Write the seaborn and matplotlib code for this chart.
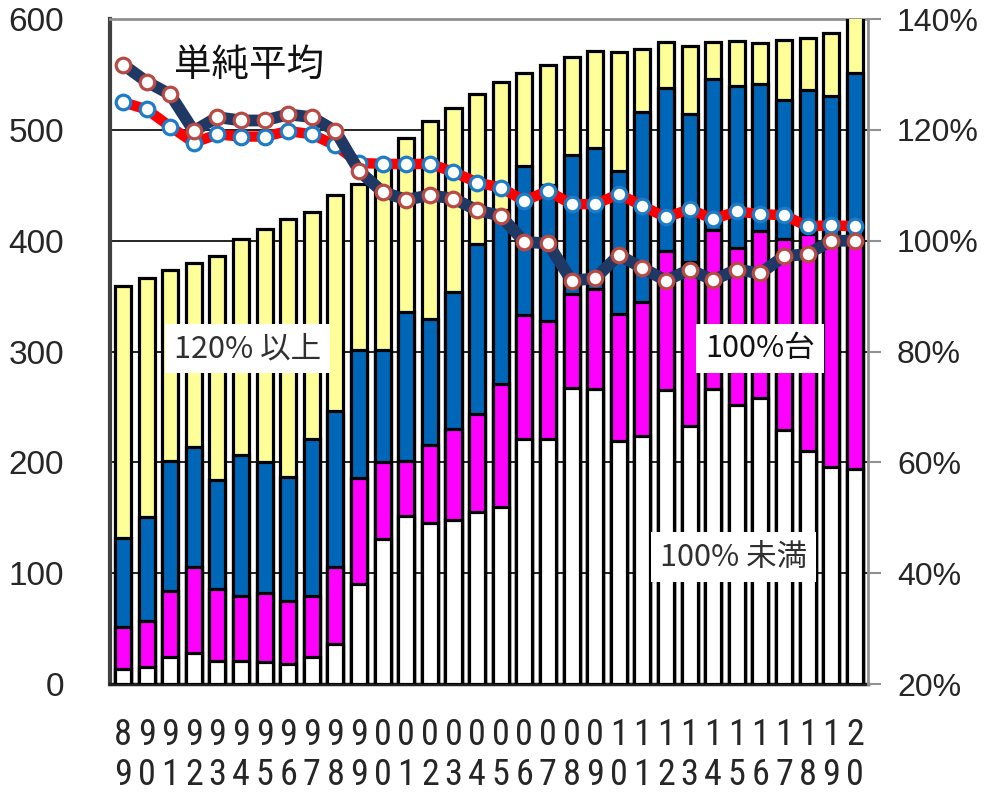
import numpy as np
import pandas as pd
import matplotlib
matplotlib.use("Agg")
import matplotlib.pyplot as plt
import seaborn as sns
from matplotlib import font_manager
from matplotlib.font_manager import FontProperties

# ---- data -------------------------------------------------------------
years = list(range(1989, 2021))

# number of cases in each band (stacked from the bottom)
under_100 = [14, 15, 24, 28, 21, 21, 20, 18, 24, 36, 90, 131, 152, 145, 148, 155,
             160, 221, 221, 267, 266, 219, 224, 265, 233, 266, 252, 258, 229, 210, 196, 194]
band_100s = [37, 42, 60, 78, 65, 58, 62, 57, 55, 70, 96, 69, 49, 71, 82, 89,
             111, 112, 107, 85, 90, 115, 121, 126, 148, 144, 141, 151, 173, 196, 203, 205]
band_110s = [81, 94, 117, 108, 98, 128, 118, 112, 142, 140, 115, 101, 135, 113, 124, 153,
             157, 134, 122, 125, 128, 129, 171, 147, 133, 136, 147, 132, 125, 130, 132, 152]
over_120 = [227, 215, 173, 166, 202, 195, 211, 233, 205, 195, 150, 171, 157, 179, 166, 135,
            115, 84, 109, 89, 87, 107, 57, 41, 62, 33, 40, 37, 54, 47, 56, 64]

# averages in percent (right axis)
simple_avg = [131.8, 128.7, 126.4, 119.8, 122.3, 121.7, 121.7, 122.8, 122.3, 119.8, 112.6,
              108.8, 107.4, 108.2, 107.6, 105.5, 104.5, 99.8, 99.5, 92.8, 93.2, 97.4,
              95.1, 92.8, 94.8, 92.9, 94.8, 94.1, 97.2, 97.6, 100.0, 100.0]
weighted_avg = [125.0, 123.7, 120.6, 117.7, 119.2, 118.8, 118.8, 119.8, 119.2, 117.2, 114.0,
                113.9, 113.8, 113.9, 112.4, 110.5, 109.6, 107.2, 109.0, 106.6, 106.6, 108.4,
                106.3, 104.2, 105.7, 103.9, 105.3, 104.8, 104.6, 102.6, 102.8, 102.6]

tick_labels = [f"{str(y)[2]}\n{str(y)[3]}" for y in years]
left_ticks = [0, 100, 200, 300, 400, 500, 600]
right_ticks = [20, 40, 60, 80, 100, 120, 140]

# ---- style ------------------------------------------------------------
sns.set_style("white")
plt.rcParams["font.family"] = ["Liberation Sans", "Noto Sans CJK JP", "DejaVu Sans"]
jp_family = ["Noto Sans CJK JP", "DejaVu Sans"]


def narrow_font(size):
    """Pick a condensed sans face for the stacked year digits, if one is installed."""
    fonts = font_manager.fontManager.ttflist
    for name in ["Liberation Sans Narrow", "Roboto Condensed", "DejaVu Sans", "Open Sans"]:
        for f in fonts:
            regular = f.name == name and f.style == "normal" and str(f.weight) in ("400", "normal")
            condensed = name == "Liberation Sans Narrow" or f.stretch in ("condensed", "semi-condensed")
            if regular and condensed:
                return FontProperties(fname=f.fname, size=size)
    return FontProperties(family="Liberation Sans", size=size)


df = pd.DataFrame({
    "year": [str(y) for y in years],
    "w": under_100,
    "m": band_100s,
    "b": band_110s,
    "y": over_120,
})
df["cum_m"] = df["w"] + df["m"]
df["cum_b"] = df["cum_m"] + df["b"]
df["cum_y"] = df["cum_b"] + df["y"]

fig = plt.figure(figsize=(9.85, 7.95), dpi=100)
ax = fig.add_axes([0.1117, 0.1396, 0.881 - 0.1117, 0.976 - 0.1396])

# stacked bars: draw each cumulative total, tallest first
order = df["year"].tolist()
bar_kw = dict(edgecolor="black", linewidth=2.3, width=0.68, saturation=1, ax=ax, order=order, zorder=3)
for col, colour in [("cum_y", "#FFFF99"), ("cum_b", "#0066B8"), ("cum_m", "#FF00FF"), ("w", "white")]:
    sns.barplot(data=df, x="year", y=col, color=colour, **bar_kw)

ax.set_ylim(0, 600)
ax.set_xlim(-0.55, len(years) - 0.45)
ax.set_yticks(left_ticks)
ax.set_yticklabels([str(t) for t in left_ticks], fontsize=24, family="Liberation Sans")
ax.set_xticks(range(len(years)))
ax.set_xticklabels(tick_labels, fontproperties=narrow_font(26), linespacing=1.12)
ax.tick_params(axis="y", length=0, pad=33)
ax.tick_params(axis="x", length=0, pad=24)
ax.set_xlabel("")
ax.set_ylabel("")
for v in left_ticks[1:-1]:
    ax.axhline(v, color="black", linewidth=1.2, zorder=1)

ax.spines["left"].set_color("#404040")
ax.spines["left"].set_linewidth(3)
ax.spines["bottom"].set_color("#202020")
ax.spines["bottom"].set_linewidth(2.5)
ax.spines["top"].set_color("#909090")
ax.spines["top"].set_linewidth(2)
ax.spines["right"].set_visible(False)

# ---- averages on the right axis ---------------------------------------
ax2 = ax.twinx()
xpos = np.arange(len(years))
sns.lineplot(x=xpos, y=weighted_avg, ax=ax2, color="#FF0000", linewidth=7.5,
             marker="o", markersize=10.5, markerfacecolor="white",
             markeredgecolor="#1C7CC8", markeredgewidth=2.3, zorder=4)
sns.lineplot(x=xpos, y=simple_avg, ax=ax2, color="#1F3864", linewidth=8.5,
             marker="o", markersize=10.5, markerfacecolor="white",
             markeredgecolor="#B84A45", markeredgewidth=2.3, zorder=5)
ax2.set_ylim(20, 140)
ax2.set_yticks(right_ticks)
ax2.set_yticklabels([f"{t}%" for t in right_ticks], fontsize=23, family="Liberation Sans")
ax2.tick_params(axis="y", length=9, width=1.5, color="#909090", pad=12)
ax2.set_ylabel("")
ax2.set_xlabel("")
for side in ["left", "top", "bottom"]:
    ax2.spines[side].set_visible(False)
ax2.spines["right"].set_color("#909090")
ax2.spines["right"].set_linewidth(2)

# ---- labels -----------------------------------------------------------
box = dict(facecolor="white", edgecolor="none", boxstyle="square,pad=0.3")
ax2.text(5.33, 131.7, "単純平均", fontsize=27, family=jp_family, color="#111111",
         ha="center", va="center", zorder=6)
ax2.text(5.27, 80.5, "120% 以上", fontsize=22, family=jp_family, color="#303030",
         ha="center", va="center", bbox=box, zorder=6)
ax2.text(27.0, 80.5, "100%台", fontsize=22, family=jp_family, color="#111111",
         ha="center", va="center", bbox=box, zorder=6)
ax2.text(25.86, 42.9, "100% 未満", fontsize=22, family=jp_family, color="#303030",
         ha="center", va="center", bbox=box, zorder=6)

fig.savefig("out.png", dpi=100)
